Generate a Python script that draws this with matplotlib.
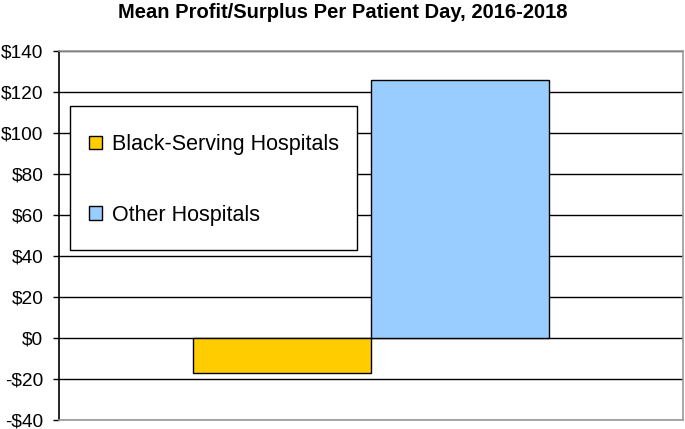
import matplotlib
matplotlib.use("Agg")
import matplotlib.pyplot as plt
from matplotlib.patches import Rectangle
from matplotlib.ticker import FuncFormatter

plt.rcParams['font.family'] = ['Liberation Sans', 'DejaVu Sans']

## Data
groups = ['Black-Serving Hospitals', 'Other Hospitals']
profit = [-17, 126]
colors = ['#FFCC00', '#99CCFF']
yticks = list(range(-40, 141, 20))

fig = plt.figure(figsize=(6.85, 4.29), dpi=100)
ax = fig.add_axes([59/685, 1 - 420/429, 624/685, 369/429])

width = 0.286
xpos = [0.5 - width/2, 0.5 + width/2]
for x, v, c, lab in zip(xpos, profit, colors, groups):
    ax.bar(x, v, width=width, color=c, edgecolor='black', linewidth=1.0, label=lab, zorder=3)

ax.set_xlim(0, 1)
ax.set_ylim(-40, 140)
ax.set_yticks(yticks)
ax.yaxis.set_major_formatter(FuncFormatter(lambda v, p: ('-$%d' % -v) if v < 0 else '$%d' % v))
ax.set_xticks([])
ax.grid(axis='y', color='black', linewidth=1.0, zorder=0)
ax.tick_params(axis='y', labelsize=13.8, length=4.3, width=1.0, direction='out', pad=7)

ax.spines['left'].set_color('black')
ax.spines['left'].set_linewidth(1.2)
for s in ['top', 'right', 'bottom']:
    ax.spines[s].set_color('#999999')
    ax.spines[s].set_linewidth(1.2)

fig.text(0.5, 1 - 12/429, 'Mean Profit/Surplus Per Patient Day, 2016-2018',
         fontsize=14.5, fontweight='bold', ha='center', va='center')

# legend frame drawn separately so the entries can sit where they do in the original
frame = Rectangle((70/685, 1 - 250/429), 287/685, 144/429, transform=fig.transFigure,
                  facecolor='white', edgecolor='black', linewidth=1.0, zorder=4)
ax.add_patch(frame)
frame.set_clip_on(False)

leg = ax.legend(loc='upper left', bbox_to_anchor=(89/685, 1 - 134/429),
                bbox_transform=fig.transFigure, fontsize=15.5, frameon=False,
                handlelength=0.6, handleheight=0.6, handletextpad=0.45,
                labelspacing=2.3, borderpad=0, borderaxespad=0)
leg.set_zorder(5)

fig.savefig('out.png', dpi=100)
